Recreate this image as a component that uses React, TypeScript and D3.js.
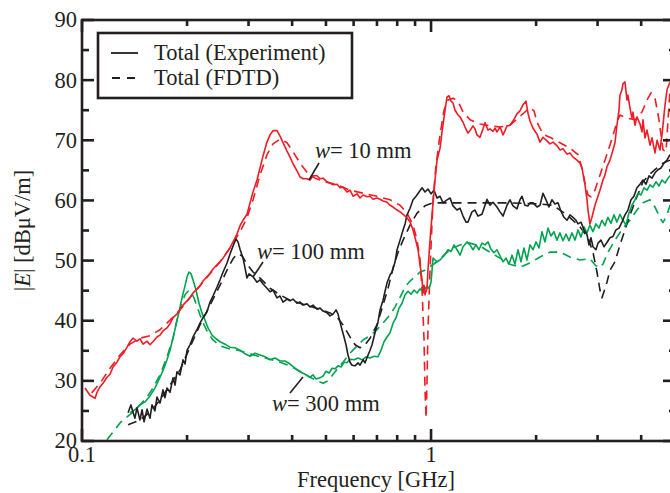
import React from "react";
import * as d3 from "d3";

type P = [number, number];

const xMajorTicks = [0.1, 1];
const xMajorLabels = ["0.1", "1"];
const xMinorTicks = [0.2, 0.3, 0.4, 0.5, 0.6, 0.7, 0.8, 0.9, 2, 3, 4];
const yMajorTicks = [20, 30, 40, 50, 60, 70, 80, 90];
const yMinorTicks = [25, 35, 45, 55, 65, 75, 85];

const legendLabels = ["Total (Experiment)", "Total (FDTD)"];

const red_exp: P[] = [
  [0.102, 28.8], [0.1054, 27.6], [0.109, 27.1], [0.1104, 28.1], [0.1126, 29.0], [0.1149, 29.6], [0.1179, 30.6], [0.1203, 31.1],
  [0.1227, 32.3], [0.1259, 33.1], [0.1285, 34.0], [0.1311, 34.5], [0.1346, 35.6], [0.1372, 36.5], [0.14, 37.1], [0.1437, 36.6],
  [0.1466, 37.0], [0.1496, 36.1], [0.1536, 36.6], [0.1566, 36.0], [0.1597, 36.5], [0.164, 37.3], [0.1673, 37.6], [0.1706, 38.3],
  [0.1752, 38.8], [0.1787, 39.5], [0.1823, 40.5], [0.1871, 41.1], [0.1909, 41.9], [0.1947, 42.6], [0.2, 43.3], [0.2039, 43.9],
  [0.208, 44.6], [0.2135, 45.3], [0.2178, 45.8], [0.2222, 46.6], [0.2281, 47.3], [0.2327, 47.9], [0.2373, 48.6], [0.2437, 49.3],
  [0.2486, 49.8], [0.2536, 50.4], [0.2603, 51.4], [0.2655, 52.1], [0.2708, 53.1], [0.278, 54.4], [0.2836, 55.8], [0.2893, 56.7],
  [0.297, 57.7], [0.303, 59.6], [0.309, 61.4], [0.3172, 63.4], [0.3236, 65.4], [0.3301, 67.4], [0.3389, 69.7], [0.3457, 70.9],
  [0.3526, 71.6], [0.362, 71.6], [0.3693, 70.7], [0.3767, 69.6], [0.3867, 68.2], [0.3945, 67.2], [0.4024, 66.1], [0.4131, 64.9],
  [0.4213, 63.9], [0.4298, 63.6], [0.4412, 63.6], [0.4501, 63.4], [0.4591, 64.1], [0.4713, 64.1], [0.4808, 63.6], [0.4905, 63.7],
  [0.5035, 63.1], [0.5136, 62.9], [0.524, 62.6], [0.5379, 62.7], [0.5486, 62.1], [0.5596, 62.2], [0.5745, 61.4], [0.586, 61.7],
  [0.5978, 60.7], [0.6138, 61.1], [0.626, 60.4], [0.6387, 60.9], [0.6557, 60.6], [0.6687, 60.7], [0.682, 60.2], [0.7, 60.4],
  [0.7143, 60.2], [0.7286, 59.9], [0.748, 59.7], [0.763, 59.2], [0.7785, 58.9], [0.7993, 58.4], [0.8151, 58.1], [0.8315, 57.7],
  [0.8537, 57.1], [0.8707, 56.4], [0.8882, 55.1], [0.9, 53.8], [0.918, 51.8], [0.93, 49.3], [0.9425, 46.8], [0.9487, 44.6],
  [0.955, 45.9], [0.961, 44.3], [0.974, 45.4], [0.98, 48.4], [0.9934, 53.4], [1.0066, 57.6], [1.0267, 63.4], [1.0404, 66.7],
  [1.0612, 68.7], [1.0753, 71.4], [1.0968, 75.0], [1.1113, 77.2], [1.126, 77.4], [1.141, 76.5], [1.156, 76.2], [1.1716, 75.0],
  [1.195, 74.2], [1.2107, 73.9], [1.235, 73.0], [1.2513, 72.2], [1.276, 71.2], [1.2932, 71.6], [1.319, 72.4], [1.336, 71.9],
  [1.354, 70.9], [1.381, 70.5], [1.409, 71.9], [1.4277, 72.9], [1.456, 71.7], [1.475, 71.9], [1.505, 71.5], [1.525, 72.0],
  [1.545, 71.4], [1.576, 72.2], [1.608, 70.9], [1.629, 71.6], [1.651, 72.4], [1.683, 72.5], [1.717, 73.2], [1.763, 74.4],
  [1.798, 74.9], [1.834, 75.9], [1.871, 76.5], [1.896, 74.5], [1.921, 73.2], [1.96, 72.0], [2.012, 71.0], [2.052, 69.7],
  [2.093, 70.5], [2.149, 69.9], [2.191, 69.4], [2.235, 69.7], [2.295, 69.1], [2.341, 68.4], [2.388, 68.6], [2.452, 67.7],
  [2.501, 67.9], [2.551, 67.2], [2.619, 66.7], [2.671, 66.2], [2.707, 65.4], [2.761, 62.6], [2.798, 60.1], [2.816, 58.4],
  [2.853, 56.1], [2.891, 57.2], [2.949, 59.2], [3.008, 60.7], [3.048, 61.7], [3.109, 63.4], [3.15, 64.2], [3.192, 65.6],
  [3.256, 66.7], [3.321, 68.4], [3.365, 69.6], [3.409, 72.5], [3.455, 75.0], [3.478, 77.5], [3.524, 78.4], [3.547, 79.4],
  [3.594, 79.7], [3.642, 76.7], [3.666, 77.5], [3.715, 75.4], [3.764, 73.7], [3.789, 74.7], [3.839, 72.5], [3.89, 73.9],
  [3.969, 72.7], [4.022, 71.4], [4.048, 73.4], [4.102, 70.4], [4.157, 71.7], [4.24, 69.2], [4.297, 70.4], [4.382, 67.9],
  [4.441, 70.0], [4.529, 68.4], [4.589, 70.9], [4.682, 75.9], [4.744, 78.4], [4.838, 79.7],
];

const red_fdtd: P[] = [
  [0.1066, 28.0], [0.1126, 29.6], [0.1203, 32.1], [0.1285, 34.3], [0.1372, 36.1], [0.1466, 37.1], [0.1566, 37.5], [0.1673, 38.5],
  [0.1787, 40.1], [0.1909, 41.8], [0.2039, 43.8], [0.2178, 45.8], [0.2327, 47.8], [0.2486, 49.8], [0.2655, 52.1], [0.2836, 54.8],
  [0.297, 57.1], [0.309, 60.1], [0.3236, 64.2], [0.3389, 67.6], [0.3526, 69.4], [0.3693, 70.2], [0.3867, 69.6], [0.4024, 68.1],
  [0.4213, 66.2], [0.4412, 64.7], [0.4652, 63.7], [0.497, 63.1], [0.5379, 62.6], [0.586, 61.7], [0.6387, 61.2], [0.7, 60.7],
  [0.763, 60.1], [0.8151, 59.2], [0.8537, 57.9], [0.8882, 55.9], [0.912, 53.4], [0.93, 50.1], [0.9425, 45.1], [0.955, 36.8],
  [0.961, 28.5], [0.968, 23.8], [0.974, 30.1], [0.98, 38.5], [0.9934, 48.4], [1.0133, 60.1], [1.0335, 65.9], [1.0612, 70.9],
  [1.0895, 75.0], [1.1187, 76.7], [1.156, 77.0], [1.195, 76.5], [1.235, 74.7], [1.2932, 73.4], [1.381, 72.7], [1.475, 72.4],
  [1.576, 72.2], [1.683, 72.5], [1.775, 73.7], [1.858, 74.7], [1.921, 75.4], [1.973, 74.9], [2.012, 73.0], [2.093, 71.0],
  [2.191, 70.5], [2.341, 69.6], [2.501, 68.7], [2.637, 67.6], [2.707, 65.4], [2.761, 62.9], [2.816, 60.9], [2.872, 60.6],
  [2.949, 61.7], [3.048, 64.2], [3.15, 66.7], [3.256, 69.2], [3.409, 73.0], [3.478, 74.2], [3.642, 73.7], [3.839, 73.4],
  [4.022, 74.7], [4.157, 76.7], [4.268, 77.9], [4.382, 77.0], [4.499, 73.4], [4.62, 68.4], [4.713, 68.1], [4.776, 73.4],
  [4.838, 78.4],
];

const black_exp: P[] = [
  [0.1355, 24.7], [0.1381, 26.0], [0.14, 24.8], [0.1418, 23.8], [0.1437, 25.5], [0.1466, 23.5], [0.1486, 25.2], [0.1506, 23.2],
  [0.1536, 25.3], [0.1566, 23.8], [0.1587, 26.0], [0.1618, 25.0], [0.164, 27.3], [0.1673, 26.3], [0.1706, 28.5], [0.1729, 27.2],
  [0.1752, 28.8], [0.1787, 28.1], [0.1823, 30.5], [0.1847, 29.3], [0.1871, 31.5], [0.1909, 31.0], [0.1947, 33.5], [0.1973, 32.8],
  [0.2, 35.1], [0.2039, 36.0], [0.208, 37.3], [0.2135, 38.5], [0.2178, 39.6], [0.2222, 40.5], [0.2281, 41.5], [0.2327, 43.1],
  [0.2373, 44.1], [0.2437, 45.6], [0.2486, 46.8], [0.2536, 48.1], [0.2603, 49.6], [0.2655, 51.1], [0.2708, 52.4], [0.2762, 53.6],
  [0.2799, 53.1], [0.2836, 51.9], [0.2893, 50.4], [0.2931, 48.8], [0.297, 47.1], [0.301, 47.8], [0.309, 47.3], [0.3172, 46.4],
  [0.3236, 46.8], [0.3301, 46.1], [0.3389, 45.4], [0.3457, 44.8], [0.3526, 45.1], [0.362, 43.8], [0.3693, 44.1], [0.3767, 43.1],
  [0.3867, 43.6], [0.3945, 43.3], [0.4024, 43.6], [0.4131, 42.9], [0.4213, 43.1], [0.4298, 42.6], [0.4412, 42.8], [0.4501, 42.3],
  [0.4591, 42.6], [0.4713, 41.9], [0.4808, 42.1], [0.4905, 41.6], [0.5035, 41.3], [0.5136, 40.8], [0.524, 41.1], [0.5344, 41.8],
  [0.5415, 41.1], [0.5486, 39.8], [0.5559, 38.5], [0.5633, 37.3], [0.5707, 36.0], [0.5783, 34.3], [0.586, 33.1], [0.5938, 32.6],
  [0.6058, 32.5], [0.6179, 33.0], [0.626, 32.6], [0.6387, 33.5], [0.6471, 33.0], [0.66, 34.3], [0.6687, 35.1], [0.6776, 36.0],
  [0.691, 38.0], [0.7048, 39.8], [0.7143, 41.8], [0.7286, 43.4], [0.7383, 44.9], [0.748, 46.3], [0.763, 47.6], [0.7734, 48.1],
  [0.7888, 49.8], [0.7993, 51.8], [0.8151, 53.4], [0.8315, 55.1], [0.8425, 56.1], [0.8537, 57.6], [0.8707, 58.7], [0.8882, 60.1],
  [0.906, 60.7], [0.924, 61.4], [0.9425, 62.1], [0.961, 61.4], [0.98, 61.9], [1.0, 61.1], [1.02, 61.7], [1.0404, 60.4],
  [1.0612, 60.7], [1.0824, 59.6], [1.1113, 60.1], [1.1335, 60.4], [1.156, 59.1], [1.187, 58.4], [1.2107, 58.7], [1.235, 57.4],
  [1.2596, 56.4], [1.276, 56.4], [1.31, 58.1], [1.336, 58.4], [1.363, 57.4], [1.3995, 57.7], [1.4277, 59.2], [1.4467, 60.2],
  [1.475, 59.2], [1.505, 59.7], [1.545, 58.9], [1.576, 58.1], [1.608, 57.4], [1.651, 59.2], [1.683, 60.1], [1.717, 59.1],
  [1.763, 58.6], [1.798, 60.1], [1.822, 60.7], [1.858, 59.2], [1.896, 59.1], [1.921, 59.6], [1.96, 59.6], [2.012, 58.9],
  [2.052, 59.2], [2.093, 61.2], [2.135, 60.1], [2.177, 58.9], [2.22, 60.1], [2.265, 59.4], [2.311, 59.6], [2.356, 58.2],
  [2.404, 57.2], [2.452, 56.7], [2.501, 57.6], [2.551, 57.2], [2.602, 56.7], [2.637, 56.1], [2.689, 56.4], [2.743, 55.1],
  [2.798, 54.3], [2.834, 52.6], [2.872, 53.8], [2.91, 52.3], [2.968, 51.8], [3.008, 52.9], [3.068, 53.4], [3.129, 52.3],
  [3.192, 53.0], [3.256, 53.8], [3.321, 54.0], [3.387, 55.1], [3.455, 55.4], [3.524, 56.4], [3.594, 57.6], [3.666, 58.4],
  [3.74, 60.1], [3.814, 60.7], [3.89, 62.1], [3.969, 62.7], [4.048, 63.4], [4.13, 62.7], [4.212, 64.1], [4.297, 63.7],
  [4.382, 64.6], [4.47, 65.1], [4.559, 65.4], [4.651, 66.2], [4.744, 66.7], [4.838, 67.6],
];

const black_fdtd: P[] = [
  [0.1355, 22.7], [0.1466, 23.5], [0.1566, 24.8], [0.1673, 26.8], [0.1787, 29.3], [0.1909, 31.8], [0.2039, 35.6], [0.2178, 39.3],
  [0.2327, 42.6], [0.2486, 45.9], [0.2603, 48.4], [0.2708, 50.3], [0.278, 51.1], [0.2874, 50.8], [0.297, 49.4], [0.309, 48.1],
  [0.3236, 47.1], [0.3457, 45.4], [0.3693, 44.3], [0.3945, 43.4], [0.4213, 42.9], [0.4501, 42.4], [0.4808, 41.9], [0.5136, 41.3],
  [0.5379, 40.6], [0.5596, 39.3], [0.586, 37.3], [0.6058, 36.0], [0.626, 35.5], [0.6471, 36.0], [0.6687, 37.1], [0.7, 39.3],
  [0.7286, 42.6], [0.7531, 45.4], [0.7785, 48.8], [0.8046, 51.4], [0.8315, 53.4], [0.8707, 55.9], [0.912, 57.9], [0.961, 59.1],
  [1.0133, 59.6], [1.1335, 59.6], [1.381, 59.6], [1.683, 59.6], [2.052, 59.4], [2.235, 59.2], [2.452, 57.6], [2.671, 55.6],
  [2.816, 53.8], [2.91, 51.4], [2.988, 48.1], [3.048, 45.1], [3.088, 43.8], [3.129, 44.8], [3.192, 46.4], [3.256, 48.4],
  [3.365, 49.8], [3.478, 52.6], [3.594, 55.1], [3.715, 57.6], [3.89, 60.6], [4.048, 63.1], [4.24, 64.4], [4.441, 65.4],
  [4.62, 66.2], [4.838, 66.7],
];

const green_exp: P[] = [
  [0.1372, 24.7], [0.1418, 25.2], [0.1466, 26.0], [0.1516, 26.5], [0.1566, 27.5], [0.1618, 28.8], [0.1673, 30.6], [0.1717, 32.1],
  [0.1752, 33.5], [0.1787, 35.1], [0.1823, 37.1], [0.1859, 39.3], [0.1896, 41.4], [0.1934, 43.8], [0.1973, 45.8], [0.2, 47.3],
  [0.2026, 48.1], [0.2053, 47.8], [0.208, 46.8], [0.2121, 45.1], [0.2164, 42.9], [0.2207, 41.3], [0.2251, 40.1], [0.2296, 38.8],
  [0.2358, 37.6], [0.2421, 37.0], [0.2486, 36.5], [0.2569, 36.1], [0.2655, 35.6], [0.2744, 35.5], [0.2836, 35.1], [0.2931, 34.5],
  [0.303, 34.1], [0.3131, 34.6], [0.3236, 34.3], [0.3345, 34.0], [0.3457, 33.5], [0.3573, 33.8], [0.3693, 33.3], [0.3817, 33.3],
  [0.3945, 32.8], [0.4077, 32.1], [0.4213, 31.5], [0.4355, 31.1], [0.4501, 30.6], [0.4591, 31.0], [0.4682, 30.3], [0.4808, 30.5],
  [0.4905, 30.8], [0.5002, 31.6], [0.5102, 31.3], [0.5205, 32.1], [0.5309, 32.0], [0.5415, 32.5], [0.5523, 32.3], [0.5633, 33.1],
  [0.5745, 33.0], [0.586, 33.6], [0.6018, 33.5], [0.6179, 33.8], [0.6345, 33.5], [0.6514, 34.0], [0.6687, 33.8], [0.6865, 34.1],
  [0.7048, 34.0], [0.719, 35.1], [0.7334, 36.5], [0.748, 37.3], [0.763, 38.0], [0.7785, 39.6], [0.794, 40.5], [0.8097, 42.1],
  [0.826, 42.9], [0.8425, 44.3], [0.8594, 44.9], [0.8765, 44.4], [0.894, 45.1], [0.912, 44.6], [0.93, 45.3], [0.9487, 44.8],
  [0.968, 45.6], [0.987, 45.4], [1.0, 46.4], [1.0133, 50.4], [1.0404, 49.8], [1.0612, 50.1], [1.0895, 50.8], [1.1187, 51.8],
  [1.141, 51.5], [1.164, 52.6], [1.187, 51.8], [1.2107, 50.9], [1.235, 52.3], [1.268, 53.1], [1.2932, 52.6], [1.319, 51.8],
  [1.345, 52.6], [1.372, 51.8], [1.3995, 52.9], [1.4277, 52.6], [1.456, 53.1], [1.485, 51.9], [1.515, 51.3], [1.545, 51.8],
  [1.576, 50.8], [1.608, 49.8], [1.64, 50.4], [1.672, 49.4], [1.706, 50.9], [1.74, 49.4], [1.775, 51.8], [1.81, 49.8],
  [1.846, 52.1], [1.883, 50.1], [1.921, 52.6], [1.96, 51.8], [1.999, 53.1], [2.039, 52.1], [2.079, 54.8], [2.121, 53.1],
  [2.163, 55.4], [2.206, 54.1], [2.25, 54.8], [2.295, 53.4], [2.341, 54.6], [2.388, 53.3], [2.436, 54.4], [2.485, 53.3],
  [2.534, 54.6], [2.585, 53.4], [2.637, 55.1], [2.689, 53.9], [2.743, 55.6], [2.798, 54.6], [2.853, 55.9], [2.91, 54.8],
  [2.968, 56.1], [3.028, 55.4], [3.088, 56.7], [3.15, 55.8], [3.213, 57.2], [3.277, 56.2], [3.343, 57.6], [3.409, 56.4],
  [3.478, 57.7], [3.547, 56.7], [3.618, 55.9], [3.69, 57.9], [3.764, 59.2], [3.839, 60.1], [3.916, 61.2], [3.995, 60.9],
  [4.075, 62.1], [4.157, 61.7], [4.24, 62.6], [4.325, 62.2], [4.411, 63.1], [4.499, 62.4], [4.589, 63.4], [4.682, 62.9],
  [4.776, 63.7], [4.838, 64.1],
];

const green_fdtd: P[] = [
  [0.1179, 20.2], [0.1227, 21.5], [0.1285, 23.0], [0.1346, 24.0], [0.14, 24.8], [0.1466, 26.0], [0.1536, 27.3], [0.1597, 28.8],
  [0.1673, 31.0], [0.1752, 34.0], [0.1823, 37.1], [0.1871, 40.1], [0.1922, 42.6], [0.1973, 44.3], [0.2013, 44.9], [0.2053, 44.8],
  [0.2093, 43.8], [0.2135, 42.4], [0.2178, 41.0], [0.2237, 39.3], [0.2296, 38.0], [0.2373, 36.8], [0.2486, 35.8], [0.2655, 35.3],
  [0.2836, 35.0], [0.303, 34.5], [0.3236, 34.0], [0.3457, 33.6], [0.3693, 33.1], [0.3945, 32.5], [0.4213, 31.6], [0.4501, 30.6],
  [0.4713, 30.0], [0.4905, 29.6], [0.5068, 30.0], [0.524, 31.1], [0.5415, 32.1], [0.5596, 33.1], [0.586, 34.6], [0.6138, 35.8],
  [0.6387, 36.8], [0.6687, 37.5], [0.7, 38.5], [0.7286, 39.6], [0.763, 41.0], [0.7888, 42.3], [0.8151, 43.9], [0.8425, 45.6],
  [0.8707, 46.6], [0.9, 47.3], [0.93, 48.1], [0.961, 48.4], [1.0, 49.1], [1.0404, 49.8], [1.0968, 51.1], [1.156, 52.1],
  [1.2107, 52.6], [1.2932, 52.9], [1.381, 52.4], [1.475, 51.4], [1.576, 50.4], [1.683, 49.4], [1.798, 48.9], [1.921, 49.6],
  [2.052, 50.6], [2.191, 51.4], [2.341, 51.4], [2.501, 50.6], [2.671, 50.1], [2.853, 50.3], [2.949, 49.3], [3.028, 48.8],
  [3.109, 49.4], [3.213, 51.4], [3.365, 53.4], [3.547, 55.4], [3.715, 56.7], [3.89, 58.4], [4.048, 59.6], [4.24, 60.1],
  [4.382, 58.9], [4.529, 57.1], [4.62, 56.3], [4.744, 57.6], [4.838, 59.2],
];

const RED = "#ee1c25";
const GREEN = "#00a34f";
const BLACK = "#231f20";
const FONT = "'Liberation Serif', 'Times New Roman', serif";

const W = 670;
const H = 493;
const L = 82, R = 675, T = 20, B = 441;

export default function App() {
  const x = d3.scaleLog().domain([0.1, 5]).range([L, R]);
  const y = d3.scaleLinear().domain([20, 90]).range([B, T]);
  const line = d3.line<P>().x((d) => x(d[0])).y((d) => y(d[1]));

  const series = [
    { data: red_fdtd, color: RED, dash: "9,6" },
    { data: green_fdtd, color: GREEN, dash: "9,6" },
    { data: black_fdtd, color: BLACK, dash: "9,6" },
    { data: green_exp, color: GREEN, dash: undefined },
    { data: black_exp, color: BLACK, dash: undefined },
    { data: red_exp, color: RED, dash: undefined },
  ];

  const sw = 2.6;
  const fs = 22.5;
  return (
    <svg width={W} height={H} style={{ position: "absolute", left: 0, top: 0, background: "#fff" }} fontFamily={FONT}>
      <defs>
        <clipPath id="plot">
          <rect x={L} y={T} width={R - L} height={B - T} />
        </clipPath>
      </defs>
      <g clipPath="url(#plot)">
        {series.map((s, i) => (
          <path key={i} d={line(s.data) || ""} fill="none" stroke={s.color} strokeWidth={1.6}
            strokeDasharray={s.dash} strokeLinejoin="round" />
        ))}
      </g>
      <rect x={L} y={T} width={R - L} height={B - T} fill="none" stroke={BLACK} strokeWidth={sw} />
      {xMajorTicks.map((t) => (
        <g key={"xM" + t}>
          <line x1={x(t)} x2={x(t)} y1={B} y2={B - 12} stroke={BLACK} strokeWidth={sw} />
          <line x1={x(t)} x2={x(t)} y1={T} y2={T + 12} stroke={BLACK} strokeWidth={sw} />
        </g>
      ))}
      {xMinorTicks.map((t) => (
        <g key={"xm" + t}>
          <line x1={x(t)} x2={x(t)} y1={B} y2={B - 6} stroke={BLACK} strokeWidth={sw} />
          <line x1={x(t)} x2={x(t)} y1={T} y2={T + 6} stroke={BLACK} strokeWidth={sw} />
        </g>
      ))}
      {xMajorTicks.map((t, i) => (
        <text key={"xl" + t} x={x(t)} y={462} textAnchor="middle" fontSize={fs} fill={BLACK}>{xMajorLabels[i]}</text>
      ))}
      {yMajorTicks.map((t) => (
        <g key={"yM" + t}>
          <line x1={L} x2={L + 12} y1={y(t)} y2={y(t)} stroke={BLACK} strokeWidth={sw} />
          <line x1={R} x2={R - 12} y1={y(t)} y2={y(t)} stroke={BLACK} strokeWidth={sw} />
          <text x={77} y={y(t)} dy="0.33em" textAnchor="end" fontSize={fs} fill={BLACK}>{t}</text>
        </g>
      ))}
      {yMinorTicks.map((t) => (
        <g key={"ym" + t}>
          <line x1={L} x2={L + 7} y1={y(t)} y2={y(t)} stroke={BLACK} strokeWidth={sw} />
          <line x1={R} x2={R - 6} y1={y(t)} y2={y(t)} stroke={BLACK} strokeWidth={sw} />
        </g>
      ))}
      <text x={376} y={487} textAnchor="middle" fontSize={fs} fill={BLACK}>Frequency [GHz]</text>
      <text transform={`translate(30, ${(T + B) / 2}) rotate(-90)`} textAnchor="middle" fontSize={fs} fill={BLACK}>
        |<tspan fontStyle="italic">E</tspan>| [dBμV/m]
      </text>
      <rect x={98} y={33} width={254} height={65} fill="#fff" stroke={BLACK} strokeWidth={2.6} />
      <line x1={111} x2={138} y1={53} y2={53} stroke={BLACK} strokeWidth={1.8} />
      <line x1={112} x2={136} y1={78} y2={78} stroke={BLACK} strokeWidth={1.8} strokeDasharray="8,7" />
      <text x={154} y={60} fontSize={fs} fill={BLACK}>{legendLabels[0]}</text>
      <text x={154} y={85} fontSize={fs} fill={BLACK}>{legendLabels[1]}</text>
      <line x1={319} x2={309} y1={163} y2={180} stroke={BLACK} strokeWidth={1.6} />
      <text x={315} y={158} fontSize={fs} fill={BLACK}><tspan fontStyle="italic">w</tspan>= 10 mm</text>
      <line x1={263} x2={253} y1={262} y2={277} stroke={BLACK} strokeWidth={1.6} />
      <text x={257} y={259} fontSize={fs} fill={BLACK}><tspan fontStyle="italic">w</tspan>= 100 mm</text>
      <line x1={303} x2={290} y1={377} y2={393} stroke={BLACK} strokeWidth={1.6} />
      <text x={272} y={411} fontSize={fs} fill={BLACK}><tspan fontStyle="italic">w</tspan>= 300 mm</text>
    </svg>
  );
}
